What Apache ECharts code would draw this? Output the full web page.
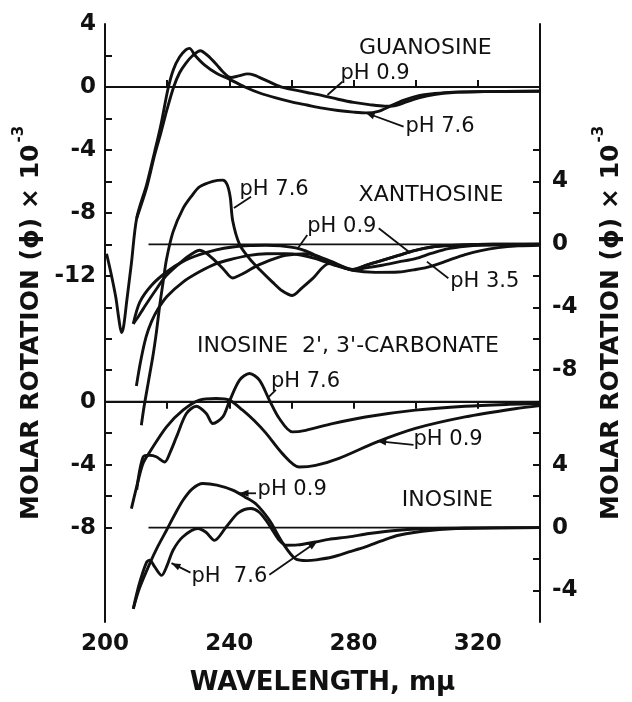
<!DOCTYPE html>
<html>
<head>
<meta charset="utf-8">
<script src="https://cdn.jsdelivr.net/npm/echarts@6/dist/echarts.min.js"></script>
<style>
html, body { margin: 0; background: #fff; }
#ord { width: 632px; height: 702px; }
</style>
</head>
<body>
<div id="ord"></div>
<script>
// wavelength (mμ), molar rotation x 10^-3 -- each compound on its own offset scale
var zeroFull = [[200, 0], [340, 0]];
var zeroShort = [[214, 0], [340, 0]];

var guanosinePh76 = [[200.5,-10.6],[202,-11.9],[203.5,-13.4],[204.5,-14.8],[205.3,-15.6],[206,-15.2],[207,-13.6],[208.5,-11.2],[210.2,-8.34],[213.4,-6.2],[216,-4.1],[218,-2.4],[220.3,-0.1],[222,1.1],[224,1.9],[226,2.35],[227.2,2.45],[229,2.0],[232,1.4],[236,0.85],[240,0.5],[245,0],[250,-0.4],[255,-0.7],[260,-0.95],[265,-1.15],[270,-1.35],[275,-1.5],[280,-1.6],[284,-1.65],[288,-1.55],[292,-1.2],[296,-0.85],[301,-0.55],[306,-0.42],[312,-0.33],[322,-0.3],[340,-0.28]];
var guanosinePh09 = [[210.2,-8.34],[213.4,-6.4],[216,-4.3],[218,-2.9],[220,-1.4],[222.1,0],[224,0.9],[226,1.5],[228,1.95],[230.7,2.3],[233,2.0],[236,1.4],[238,0.95],[240.5,0.6],[243,0.7],[245.9,0.83],[248,0.75],[252,0.4],[256.6,0],[260,-0.15],[265,-0.35],[270,-0.55],[275,-0.78],[280,-0.98],[285,-1.12],[290,-1.22],[293,-1.2],[297,-0.95],[301,-0.7],[306,-0.48],[312,-0.35],[320,-0.3],[340,-0.26]];

var xanthosinePh76 = [[211.7,-11.5],[212.5,-10.4],[214,-8.7],[215.5,-7.0],[216.6,-5.5],[217.6,-3.9],[218.7,-2.4],[219.8,-0.95],[221.9,0.79],[225.1,2.27],[228,3.1],[230.4,3.65],[234.7,4.0],[237.9,4.08],[239.3,3.8],[240.3,3.0],[241.1,1.5],[243.3,0],[246.5,-0.91],[250,-1.65],[253.9,-2.4],[257,-2.95],[260.3,-3.25],[263.5,-2.75],[266.8,-2.18],[272.1,-1.23],[276.4,-1.44],[279.6,-1.62],[284,-1.5],[289.2,-1.33],[294.5,-1.12],[299.9,-0.91],[305,-0.58],[310.5,-0.27],[316,-0.12],[321.2,-0.06],[340,0]];
var xanthosinePh09 = [[209.1,-5.05],[211.2,-3.67],[215,-2.6],[219.8,-1.76],[225,-1.1],[230.4,-0.66],[235.8,-0.35],[241.1,-0.17],[246.5,-0.08],[251.8,-0.06],[256.5,-0.1],[261.4,-0.23],[264.6,-0.42],[267.8,-0.7],[273.2,-1.12],[276.4,-1.4],[279.6,-1.59],[284.4,-1.3],[289.2,-1.02],[294.5,-0.7],[299.9,-0.38],[305.2,-0.17],[310.5,-0.08],[315.9,-0.04],[325,0],[340,0]];
var xanthosinePh35 = [[210.1,-9.0],[211.5,-7.4],[213.2,-5.9],[215,-4.9],[217.1,-4.1],[220,-3.3],[225.1,-2.4],[230.4,-1.75],[235.8,-1.23],[241.1,-0.93],[246.5,-0.7],[252,-0.6],[258.2,-0.59],[263,-0.68],[267.8,-0.91],[273.5,-1.3],[279.6,-1.65],[287,-1.78],[294.5,-1.76],[300,-1.6],[305.2,-1.38],[310.5,-1.02],[315.9,-0.66],[321,-0.4],[326.6,-0.21],[333,-0.1],[340,-0.06]];
var xanthosineWavy = [[209.1,-5.05],[210.7,-4.6],[212.3,-4.1],[216,-3.0],[219.8,-1.97],[225.1,-1.02],[228,-0.6],[230.4,-0.38],[232.5,-0.55],[234.7,-0.91],[238,-1.55],[241.1,-2.14],[243,-2.0],[245.4,-1.76],[248.5,-1.4],[251.8,-1.12],[255,-0.88],[258.2,-0.7],[264.6,-0.59],[268,-0.75],[271,-1.02],[275,-1.35],[279.6,-1.62],[284.4,-1.3],[289.2,-1.02],[294.5,-0.7],[299.9,-0.38],[305.2,-0.17],[310.5,-0.08],[315.9,-0.04],[325,0],[340,0]];

var carbonatePh76 = [[210.2,-5.6],[212.3,-3.5],[214.4,-3.4],[216.5,-3.5],[219.2,-3.83],[221,-3.2],[223,-2.24],[226.2,-0.75],[229.4,-0.29],[232.6,-0.75],[234.7,-1.39],[237.9,-0.97],[240,0],[243.3,1.37],[246.5,1.79],[249.7,1.37],[252.9,0.1],[256.1,-1.07],[260.3,-1.92],[264.6,-1.82],[273.2,-1.39],[283.8,-0.97],[299.9,-0.54],[315.9,-0.29],[330,-0.17],[340,-0.12]];
var carbonatePh09 = [[208.5,-6.8],[210.7,-5.0],[212.3,-3.9],[214.4,-3.2],[219.8,-1.6],[225.1,-0.54],[230.4,0.1],[235.8,0.2],[240,0.1],[244.3,-0.54],[248,-1.2],[251.8,-2.0],[257.1,-3.3],[262.5,-4.15],[267.8,-4.05],[275.3,-3.6],[287,-2.6],[299.9,-1.7],[315.9,-0.97],[331.9,-0.45],[340,-0.25]];

var inosinePh09 = [[209.1,-5.16],[211,-3.9],[214.4,-2.29],[217,-1.2],[219.8,-0.17],[222.5,0.85],[225.1,1.74],[228,2.45],[231.5,2.8],[236,2.7],[241.1,2.38],[245,1.95],[248.6,1.5],[252.9,0.47],[257.1,-0.95],[261.4,-2.0],[265,-2.1],[268,-2.05],[273.2,-1.87],[278.5,-1.55],[283.8,-1.23],[289,-0.85],[294.5,-0.49],[305.2,-0.17],[315.9,-0.04],[340,0]];
var inosinePh76 = [[209.1,-5.16],[211,-3.6],[213.4,-2.19],[214.4,-2.08],[216,-2.5],[218.2,-3.04],[220,-2.4],[221.9,-1.44],[225,-0.6],[229.9,-0.06],[232.5,-0.3],[235.2,-0.81],[239,0.04],[243,0.95],[247,1.21],[249.5,1.0],[251.8,0.47],[254,-0.2],[256.1,-0.81],[258.2,-1.12],[262,-1.1],[267.8,-0.91],[272,-0.75],[278.5,-0.59],[285,-0.38],[294.5,-0.17],[305,-0.06],[340,0]];

var xTicks = [220, 240, 260, 280, 300, 320];
var xLabels = [200, 240, 280, 320];
var guanosineLabels = [4, 0, -4, -8, -12];
var carbonateLabels = [0, -4, -8];
var xanthosineLabels = [4, 0, -4, -8];
var inosineLabels = [4, 0, -4];

var ink = '#111';
var myChart = echarts.init(document.getElementById('ord'));

function range(a, b, step) {
	var out = [];
	for (var v = a; v >= b; v -= step) out.push(v);
	return out;
}

function curve(name, data, axis, width) {
	return {
		name: name,
		type: 'line',
		yAxisIndex: axis,
		data: data,
		symbol: 'none',
		smooth: 0.3,
		silent: true,
		lineStyle: { color: ink, width: width || 2.9 }
	};
}

var tickFont = { fontFamily: 'DejaVu Sans', fontWeight: 'bold', fontSize: 23, color: ink };
var titleName = '{t|MOLAR ROTATION (\u03d5) \u00d7 10}{s|-3}';
var titleStyle = {
	rich: {
		t: { fontFamily: 'DejaVu Sans', fontWeight: 'bold', fontSize: 25, color: ink, lineHeight: 32, verticalAlign: 'bottom' },
		s: { fontFamily: 'DejaVu Sans', fontWeight: 'bold', fontSize: 15, color: ink, lineHeight: 32, verticalAlign: 'top', padding: [0, 0, 0, 2] }
	}
};

function yAxis(pos, min, max, labels, ticks, withLine, name) {
	return {
		type: 'value',
		position: pos,
		min: min,
		max: max,
		splitLine: { show: false },
		axisLine: { show: withLine, lineStyle: { color: ink, width: 2 } },
		axisTick: ticks ? { show: true, inside: true, length: 7, customValues: ticks, lineStyle: { color: ink, width: 2 } } : { show: false },
		axisLabel: Object.assign({ customValues: labels, margin: pos === 'left' ? 9 : 12, padding: [6, 0, 0, 0] }, tickFont),
		name: name || '',
		nameLocation: 'middle',
		nameRotate: 90,
		nameGap: pos === 'left' ? 56 : 52,
		nameTextStyle: titleStyle
	};
}

option = {
	animation: false,
	backgroundColor: '#fff',
	grid: { left: 105, right: 90, top: 24, bottom: 80 },
	xAxis: [{
		type: 'value',
		position: 'bottom',
		min: 200,
		max: 340,
		splitLine: { show: false },
		axisLine: { lineStyle: { color: ink, width: 2 } },
		axisTick: { inside: true, length: 7, customValues: xTicks, lineStyle: { color: ink, width: 2 } },
		axisLabel: Object.assign({ customValues: xLabels, margin: 11 }, tickFont),
		name: 'WAVELENGTH, m\u03bc',
		nameLocation: 'middle',
		nameGap: 48,
		nameTextStyle: { fontFamily: 'DejaVu Sans', fontWeight: 'bold', fontSize: 26, color: ink }
	}, {
		type: 'value',
		position: 'top',
		min: 200,
		max: 340,
		splitLine: { show: false },
		axisLine: { lineStyle: { color: ink, width: 2 } },
		axisTick: { inside: true, length: 7, customValues: xTicks, lineStyle: { color: ink, width: 2 } },
		axisLabel: { show: false }
	}],
	yAxis: [
		yAxis('left', -34, 4, guanosineLabels, range(2, -28, 2), true, titleName),
		yAxis('left', -14, 24, carbonateLabels, null, false),
		yAxis('right', -24, 14, xanthosineLabels, range(6, -22, 2), true, titleName),
		yAxis('right', -6, 32, inosineLabels, null, false)
	],
	series: [
		curve('guanosine zero', zeroFull, 0, 1.8),
		curve('guanosine pH 7.6', guanosinePh76, 0),
		curve('guanosine pH 0.9', guanosinePh09, 0),
		curve('xanthosine zero', zeroShort, 2, 1.8),
		curve('xanthosine pH 7.6', xanthosinePh76, 2),
		curve('xanthosine pH 0.9', xanthosinePh09, 2),
		curve('xanthosine pH 3.5', xanthosinePh35, 2),
		curve('xanthosine', xanthosineWavy, 2),
		curve('carbonate zero', zeroFull, 1, 1.8),
		curve('carbonate pH 7.6', carbonatePh76, 1),
		curve('carbonate pH 0.9', carbonatePh09, 1),
		curve('inosine zero', zeroShort, 3, 1.8),
		curve('inosine pH 0.9', inosinePh09, 3),
		curve('inosine pH 7.6', inosinePh76, 3)
	]
};
myChart.setOption(option);

// labels and leader lines, placed in each compound's own units
var notes = [
	{ axis: 0, text: 'GUANOSINE', at: [303.1, 2.46], align: 'center' },
	{ axis: 0, text: 'pH 0.9', at: [275.8, 0.87], leads: [[[276.4, 0.33], [271.6, -0.51], false]] },
	{ axis: 0, text: 'pH 7.6', at: [296.7, -2.52], leads: [[[296.1, -2.52], [283.9, -1.64], true]] },
	{ axis: 2, text: 'XANTHOSINE', at: [304.9, 3.14], align: 'center' },
	{ axis: 2, text: 'pH 7.6', at: [243.3, 3.45], leads: [[[247, 3.03], [241.5, 2.3], false]] },
	{ axis: 2, text: 'pH 0.9', at: [265.1, 1.12], leads: [[[288.1, 1.02], [298.3, -0.55], false], [[265.1, 0.59], [261.9, -0.3], false]] },
	{ axis: 2, text: 'pH 3.5', at: [311.1, -2.37], leads: [[[310.5, -2.16], [303.6, -1.1], false]] },
	{ axis: 1, text: "INOSINE  2', 3'-CARBONATE", at: [278.2, 3.5], align: 'center' },
	{ axis: 1, text: 'pH 7.6', at: [253.4, 1.27], leads: [[[255, 0.75], [252.3, 0.22], false]] },
	{ axis: 1, text: 'pH 0.9', at: [299.3, -2.43], leads: [[[299.3, -2.75], [287.6, -2.5], true]] },
	{ axis: 3, text: 'INOSINE', at: [310.2, 1.76], align: 'center' },
	{ axis: 3, text: 'pH 0.9', at: [249.1, 2.39], leads: [[[248.6, 2.18], [243.3, 2.18], true]] },
	{ axis: 3, text: 'pH  7.6', at: [227.8, -3.12], leads: [[[227.5, -2.86], [221.4, -2.26], true], [[252.9, -3.0], [268.3, -0.89], true]] }
];

var els = [];
function px(axis, p) {
	return myChart.convertToPixel({ xAxisIndex: 0, yAxisIndex: axis }, p);
}
notes.forEach(function (n) {
	var p = px(n.axis, n.at);
	els.push({
		type: 'text', x: p[0], y: p[1], z: 10,
		style: { text: n.text, fontFamily: 'DejaVu Sans', fontSize: n.align ? 22 : 21, fill: ink, align: n.align || 'left', verticalAlign: 'middle' }
	});
	(n.leads || []).forEach(function (l) {
		var a = px(n.axis, l[0]), b = px(n.axis, l[1]);
		els.push({ type: 'line', z: 10, shape: { x1: a[0], y1: a[1], x2: b[0], y2: b[1] }, style: { stroke: ink, lineWidth: 1.8 } });
		if (l[2]) {
			var ang = Math.atan2(b[1] - a[1], b[0] - a[0]);
			var L = 9, W = 3.5;
			var cx = b[0] - L * Math.cos(ang), cy = b[1] - L * Math.sin(ang);
			els.push({
				type: 'polygon', z: 10,
				shape: { points: [[b[0], b[1]], [cx - W * Math.sin(ang), cy + W * Math.cos(ang)], [cx + W * Math.sin(ang), cy - W * Math.cos(ang)]] },
				style: { fill: ink }
			});
		}
	});
});
myChart.setOption({ graphic: els });
</script>
</body>
</html>
